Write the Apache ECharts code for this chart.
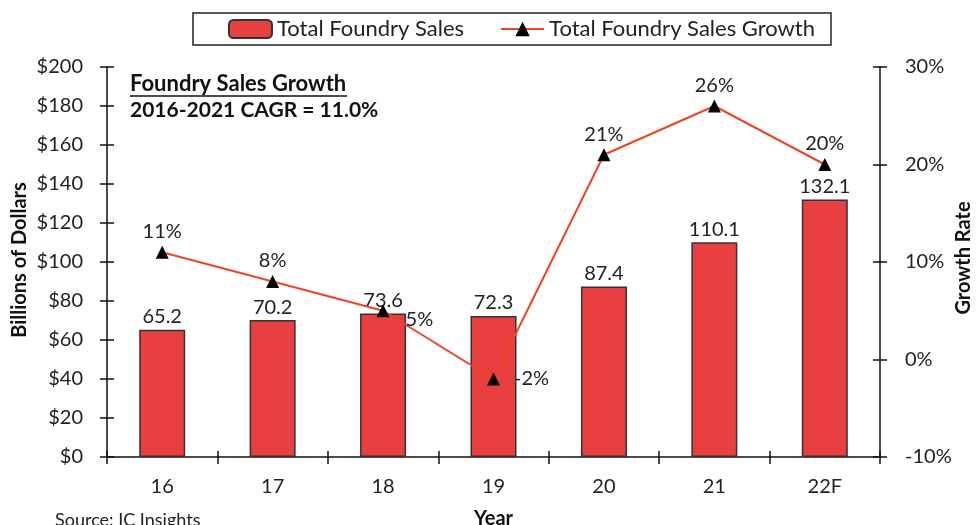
<!DOCTYPE html>
<html><head><meta charset="utf-8">
<script src="https://cdn.jsdelivr.net/npm/echarts@6/dist/echarts.min.js"></script>
<style>html,body{margin:0;padding:0;background:#fff;overflow:hidden}#c{width:976px;height:525px}</style>
</head><body><div id="c"></div>
<script>
const categories = ['16','17','18','19','20','21','22F'];
const sales = [65.2, 70.2, 73.6, 72.3, 87.4, 110.1, 132.1];
const growth = [11, 8, 5, -2, 21, 26, 20];
const leftTicks = [0, 200, 20];
const rightTicks = [-10, 30, 10];
const leftName = 'Billions of Dollars';
const rightName = 'Growth Rate';
const FONT = 'Lato';
const chart = echarts.init(document.getElementById('c'));
const tickStyle = {color: '#111', width: 1.5};
chart.setOption({
  animation: false,
  textStyle: {fontFamily: FONT},
  grid: {left: 107, right: 96, top: 67, bottom: 68, containLabel: false, outerBoundsMode: 'none'},
  legend: {
    top: 13, left: 193,
    borderColor: '#222', borderWidth: 1.5, padding: [5, 16, 5, 35],
    itemGap: 36, itemWidth: 43, itemHeight: 18,
    textStyle: {fontSize: 22, color: '#222', fontFamily: FONT},
    data: [{name: 'Total Foundry Sales'}, {name: 'Total Foundry Sales Growth'}]
  },
  xAxis: [{
    type: 'category', data: categories,
    axisLine: {onZero: false, lineStyle: tickStyle},
    axisTick: {show: true, length: 7, lineStyle: tickStyle},
    axisLabel: {fontSize: 20, color: '#222', margin: 20},
    name: 'Year', nameLocation: 'middle', nameGap: 52,
    nameTextStyle: {fontSize: 20, fontWeight: 'bold', color: '#111'}
  }, {
    type: 'category', data: categories, position: 'bottom', offset: 0,
    axisLine: {show: false, onZero: false},
    axisTick: {show: true, inside: true, length: 6, lineStyle: tickStyle},
    axisLabel: {show: false}
  }],
  yAxis: [{
    type: 'value', min: leftTicks[0], max: leftTicks[1], interval: leftTicks[2],
    axisLine: {show: true, lineStyle: tickStyle},
    axisTick: {show: true, length: 7, lineStyle: tickStyle},
    splitLine: {show: false},
    axisLabel: {fontSize: 20, color: '#222', margin: 24, formatter: v => '$' + v}
  }, {
    type: 'value', min: rightTicks[0], max: rightTicks[1], interval: rightTicks[2],
    axisLine: {show: true, lineStyle: tickStyle},
    axisTick: {show: true, length: 7, lineStyle: tickStyle},
    splitLine: {show: false},
    axisLabel: {fontSize: 20, color: '#222', margin: 25, formatter: v => v + '%'}
  }, {
    type: 'value', position: 'left', offset: 0, min: leftTicks[0], max: leftTicks[1], interval: leftTicks[2],
    axisLine: {show: false}, splitLine: {show: false}, axisLabel: {show: false},
    axisTick: {show: true, inside: true, length: 7, lineStyle: tickStyle}
  }, {
    type: 'value', position: 'right', offset: 0, min: rightTicks[0], max: rightTicks[1], interval: rightTicks[2],
    axisLine: {show: false}, splitLine: {show: false}, axisLabel: {show: false},
    axisTick: {show: true, inside: true, length: 7, lineStyle: tickStyle}
  }],
  series: [{
    name: 'Total Foundry Sales', type: 'bar', data: sales, barWidth: 46,
    itemStyle: {color: '#E84040', borderColor: '#333', borderWidth: 1.5},
    label: {show: true, position: 'top', fontSize: 20, color: '#222', distance: 3, formatter: p => p.value.toFixed(1)}
  }, {
    name: 'Total Foundry Sales Growth', type: 'line', yAxisIndex: 1, data: growth.map((v, i) => {
      const o = {value: v};
      if (v === 5) o.label = {position: 'right', distance: 16, offset: [0, 9]};
      if (v === -2) o.label = {position: 'right', distance: 14};
      return o;
    }),
    lineStyle: {color: '#EE4422', width: 2},
    symbol: 'triangle', symbolSize: 13,
    itemStyle: {color: '#000'},
    label: {show: true, position: 'top', fontSize: 20, color: '#222', distance: 4, formatter: p => p.value + '%'}
  }],
  graphic: [
    {type: 'text', x: 20, y: 260, rotation: Math.PI / 2, style: {text: leftName, align: 'center', verticalAlign: 'middle', font: 'bold 20px Lato', fill: '#111'}},
    {type: 'text', x: 964, y: 258, rotation: Math.PI / 2, style: {text: rightName, align: 'center', verticalAlign: 'middle', font: 'bold 20px Lato', fill: '#111'}},
    {type: 'text', left: 130, top: 73, style: {text: 'Foundry Sales Growth', font: 'bold 22px Lato', fill: '#111'}},
    {type: 'line', shape: {x1: 130, y1: 96, x2: 347, y2: 96}, style: {stroke: '#111', lineWidth: 1.5}},
    {type: 'text', left: 130, top: 100, style: {text: '2016-2021 CAGR = 11.0%', font: 'bold 21px Lato', fill: '#111'}},
    {type: 'text', left: 55, top: 511, style: {text: 'Source: IC Insights', font: '18px Lato', fill: '#222'}}
  ]
});
</script></body></html>
